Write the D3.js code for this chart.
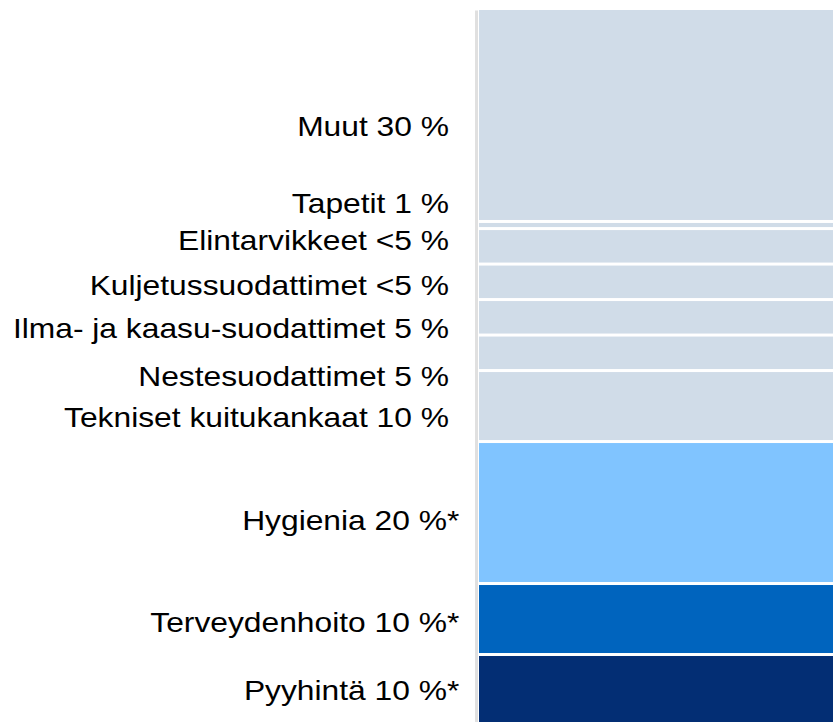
<!DOCTYPE html>
<html>
<head>
<meta charset="utf-8">
<script src="https://cdn.jsdelivr.net/npm/d3@7"></script>
<style>
  html, body { margin: 0; padding: 0; background: #fff; }
  svg { display: block; }
  .label { font-family: "Liberation Sans", Arial, sans-serif; fill: #000; }
</style>
</head>
<body>
<div id="chart"></div>
<script>
// segments listed bottom to top
const categories = [
  "Pyyhintä",
  "Terveydenhoito",
  "Hygienia",
  "Tekniset kuitukankaat",
  "Nestesuodattimet",
  "Ilma- ja kaasu-suodattimet",
  "Kuljetussuodattimet",
  "Elintarvikkeet",
  "Tapetit",
  "Muut",
];
const shares = [10, 10, 20, 10, 5, 5, 5, 5, 1, 30];
const shareLabels = ["10 %", "10 %", "20 %", "10 %", "5 %", "5 %", "<5 %", "<5 %", "1 %", "30 %"];
const starred = [true, true, true, false, false, false, false, false, false, false];
const colors = [
  "#032e74", "#0064be", "#80c4ff",
  "#d0dce8", "#d0dce8", "#d0dce8", "#d0dce8", "#d0dce8", "#d0dce8", "#d0dce8",
];
// hand placement of the labels relative to the segment middle
const labelNudge = [-1, 2, 6, 10, 22, 9, 2, -8, -23, 10];

const width = 833, height = 722;
const margin = { top: 10, bottom: -5 };
const gap = 3;
const labelX = 449;
const fontSize = 28;
const stretch = 1.135; // the source text is stretched sideways

let rows = categories.map((c, i) => ({
  name: c,
  value: shares[i],
  text: `${c} ${shareLabels[i]}`,
  star: starred[i],
  color: colors[i],
  nudge: labelNudge[i],
}));
let cum = 0;
rows.forEach((d) => {
  d.y0 = cum;
  cum += d.value;
  d.y1 = cum;
});

let y = d3
  .scaleLinear()
  .domain([0, cum])
  .range([height - margin.bottom, margin.top]);
let x = d3.scaleBand().domain(["total"]).range([479, width]);

let svg = d3
  .select("#chart")
  .append("svg")
  .attr("width", width)
  .attr("height", height);

svg
  .append("g")
  .attr("transform", `translate(476,0)`)
  .call(d3.axisLeft(y).tickValues([]).tickSizeOuter(0))
  .call((g) =>
    g.select(".domain").attr("stroke", "#e0e0e0").attr("stroke-width", 3)
  );

svg
  .append("g")
  .selectAll("rect")
  .data(rows)
  .join("rect")
  .attr("x", x("total"))
  .attr("width", x.bandwidth())
  .attr("y", (d) => y(d.y1))
  .attr("height", (d) => y(d.y0) - y(d.y1) - gap)
  .attr("fill", (d) => d.color);

let labels = svg
  .append("g")
  .selectAll("g")
  .data(rows)
  .join("g")
  .attr(
    "transform",
    (d) =>
      `translate(${d.star ? labelX - 2 : labelX},${
        (y(d.y0) + y(d.y1)) / 2 + d.nudge
      }) scale(${stretch},1)`
  );

labels
  .append("text")
  .attr("class", "label")
  .attr("text-anchor", "end")
  .attr("dy", "0.35em")
  .attr("font-size", fontSize)
  .text((d) => d.text);

labels
  .filter((d) => d.star)
  .append("text")
  .attr("class", "label")
  .attr("dy", "0.35em")
  .attr("font-size", fontSize)
  .text("*");
</script>
</body>
</html>
